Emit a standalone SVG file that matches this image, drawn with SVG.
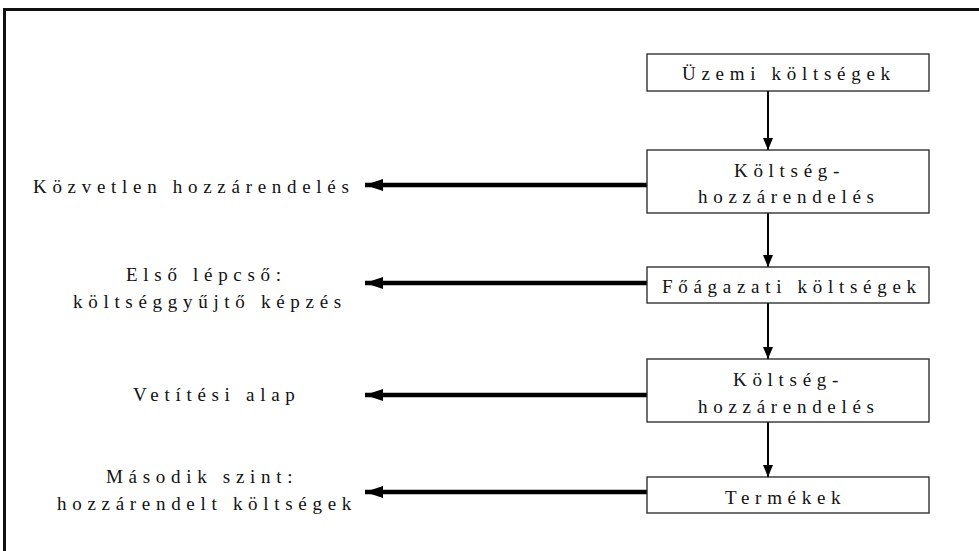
<svg xmlns="http://www.w3.org/2000/svg" width="979" height="551" viewBox="0 0 979 551">
<style>
  .box { fill: #ffffff; stroke: #222222; stroke-width: 1.3; }
  .t { font-family: "Liberation Serif", "Times New Roman", "DejaVu Serif", serif; font-size: 19px; letter-spacing: 5.7px; fill: #111111; }
  .thin { stroke: #000000; stroke-width: 2; fill: none; }
  .thick { stroke: #000000; stroke-width: 4.5; fill: none; }
</style>
<defs>
  <marker id="ah" markerUnits="userSpaceOnUse" markerWidth="12" markerHeight="12" viewBox="0 0 12 12" refX="12" refY="6" orient="auto">
    <path d="M0,1 L12,6 L0,11 Z" fill="#000"/>
  </marker>
  <marker id="ahb" markerUnits="userSpaceOnUse" markerWidth="18" markerHeight="14" viewBox="0 0 18 14" refX="18" refY="7" orient="auto">
    <path d="M0,1 L18,7 L0,13 Z" fill="#000"/>
  </marker>
</defs>
<rect x="0" y="0" width="979" height="551" fill="#ffffff"/>
<rect x="4.5" y="9.5" width="1000" height="600" fill="none" stroke="#111111" stroke-width="3"/>

<g id="connectors">
  <line class="thin" x1="768" y1="91" x2="768" y2="150" marker-end="url(#ah)"/>
  <line class="thin" x1="768" y1="213" x2="768" y2="267" marker-end="url(#ah)"/>
  <line class="thin" x1="768" y1="303" x2="768" y2="359" marker-end="url(#ah)"/>
  <line class="thin" x1="768" y1="422" x2="768" y2="477" marker-end="url(#ah)"/>
  <line class="thick" x1="647" y1="185" x2="365" y2="185" marker-end="url(#ahb)"/>
  <line class="thick" x1="647" y1="283" x2="365" y2="283" marker-end="url(#ahb)"/>
  <line class="thick" x1="647" y1="395" x2="365" y2="395" marker-end="url(#ahb)"/>
  <line class="thick" x1="647" y1="492" x2="365" y2="492" marker-end="url(#ahb)"/>
</g>

<g id="uzemi">
  <rect class="box" x="647" y="54" width="282" height="37"/>
  <text class="t" x="682" y="80">Üzemi költségek</text>
</g>
<g id="hozzarendeles1">
  <rect class="box" x="647" y="150" width="282" height="63"/>
  <text class="t" x="734" y="177">Költség-</text>
  <text class="t" x="698" y="203">hozzárendelés</text>
</g>
<g id="foagazati">
  <rect class="box" x="647" y="267" width="282" height="36"/>
  <text class="t" x="662" y="293">Főágazati költségek</text>
</g>
<g id="hozzarendeles2">
  <rect class="box" x="647" y="359" width="282" height="63"/>
  <text class="t" x="733" y="386">Költség-</text>
  <text class="t" x="698" y="413">hozzárendelés</text>
</g>
<g id="termekek">
  <rect class="box" x="647" y="477" width="282" height="36"/>
  <text class="t" x="725" y="504">Termékek</text>
</g>

<g id="kozvetlen">
  <text class="t" x="33" y="193">Közvetlen hozzárendelés</text>
</g>
<g id="elso">
  <text class="t" x="126" y="281">Első lépcső:</text>
  <text class="t" x="73" y="308">költséggyűjtő képzés</text>
</g>
<g id="vetitesi">
  <text class="t" x="133" y="401">Vetítési alap</text>
</g>
<g id="masodik">
  <text class="t" x="106" y="483">Második szint:</text>
  <text class="t" x="57" y="510">hozzárendelt költségek</text>
</g>
</svg>
